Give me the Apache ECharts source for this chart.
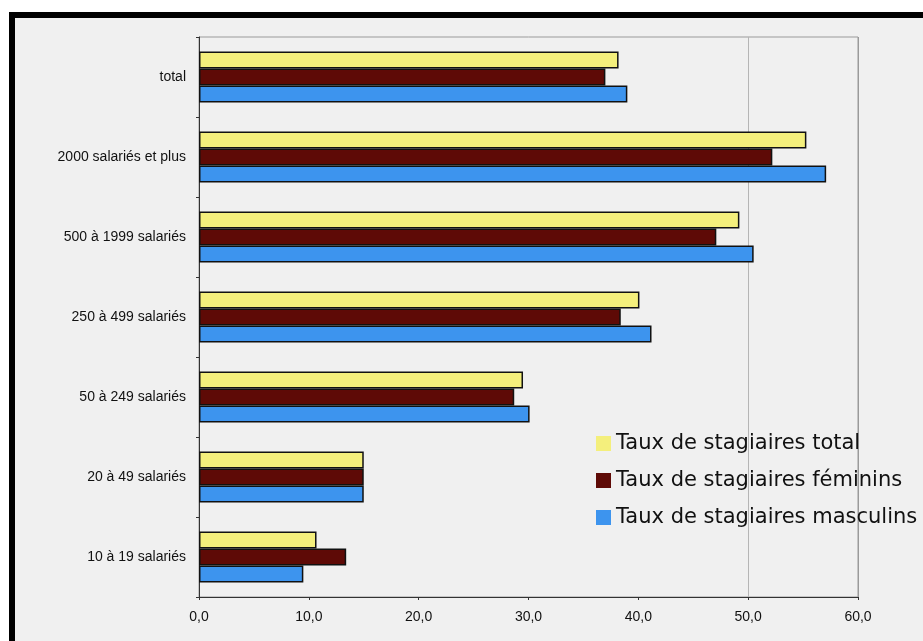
<!DOCTYPE html>
<html>
<head>
<meta charset="utf-8">
<script src="https://cdn.jsdelivr.net/npm/echarts@6/dist/echarts.min.js"></script>
<style>
html, body { margin: 0; padding: 0; background: #fff; overflow: hidden; }
.frame {
	position: absolute; left: 9px; top: 12px; width: 1000px; height: 700px;
	border-left: 6px solid #000; border-top: 6px solid #000; background: #f0f0f0;
}
#chart { position: absolute; left: 0; top: 0; width: 923px; height: 641px; }
</style>
</head>
<body>
<div class="frame"></div>
<div id="chart"></div>
<script>
// categories, top to bottom
const categories = ["total", "2000 salariés et plus", "500 à 1999 salariés", "250 à 499 salariés",
	"50 à 249 salariés", "20 à 49 salariés", "10 à 19 salariés"]
const seriesNames = ["Taux de stagiaires total", "Taux de stagiaires féminins", "Taux de stagiaires masculins"]
const totalValues = [38.2, 55.3, 49.2, 40.1, 29.5, 15.0, 10.7]
const femininValues = [37.0, 52.2, 47.1, 38.4, 28.7, 15.0, 13.4]
const masculinValues = [39.0, 57.1, 50.5, 41.2, 30.1, 15.0, 9.5]
const xTicks = [0, 10, 20, 30, 40, 50, 60]

const colors = ["#f4ef7c", "#5e0a06", "#3d94ee"]

let chart = echarts.init(document.getElementById("chart"))

const barSeries = (name, data, color) => ({
	name: name,
	type: "bar",
	data: data,
	barWidth: 17,
	barGap: "0%",
	itemStyle: { color: color, borderColor: "#111", borderWidth: 1.5 }
})

let option = {
	animation: false,
	textStyle: { fontFamily: "Liberation Sans, Arial, sans-serif" },
	grid: {
		left: 199, right: 65, top: 37, bottom: 44,
		show: true, borderColor: "#9a9a9a", borderWidth: 1, backgroundColor: "transparent"
	},
	legend: {
		orient: "vertical",
		left: 591, top: 428,
		itemWidth: 15, itemHeight: 15, itemGap: 16,
		icon: "rect",
		itemStyle: { borderWidth: 0 },
		textStyle: { fontSize: 21, color: "#111", fontFamily: "DejaVu Sans" },
		data: seriesNames
	},
	xAxis: {
		type: "value",
		min: xTicks[0], max: xTicks[xTicks.length - 1], interval: 10,
		axisLine: { show: true, lineStyle: { color: "#333" } },
		axisTick: { show: true, length: 3, lineStyle: { color: "#333" } },
		axisLabel: {
			color: "#111", fontSize: 14, margin: 13,
			formatter: v => v.toFixed(1).replace(".", ",")
		},
		splitLine: {
			show: true,
			lineStyle: { color: ["none", "none", "none", "none", "none", "#b5b5b5", "#9a9a9a"] }
		}
	},
	yAxis: {
		type: "category",
		inverse: true,
		data: categories,
		axisLine: { show: true, lineStyle: { color: "#333" } },
		axisTick: { show: true, length: 3, lineStyle: { color: "#333" } },
		axisLabel: { color: "#111", fontSize: 14, margin: 13 }
	},
	series: [
		barSeries(seriesNames[0], totalValues, colors[0]),
		barSeries(seriesNames[1], femininValues, colors[1]),
		barSeries(seriesNames[2], masculinValues, colors[2])
	]
}
chart.setOption(option)
</script>
</body>
</html>
